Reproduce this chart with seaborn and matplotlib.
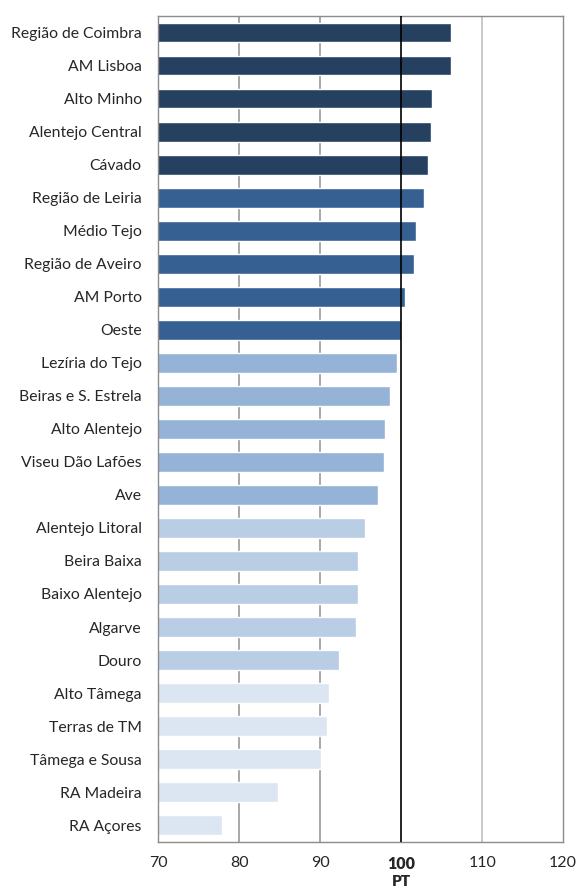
import matplotlib
matplotlib.use("Agg")
import matplotlib.pyplot as plt
import seaborn as sns
import pandas as pd

regions = ["Região de Coimbra", "AM Lisboa", "Alto Minho", "Alentejo Central", "Cávado",
           "Região de Leiria", "Médio Tejo", "Região de Aveiro", "AM Porto", "Oeste",
           "Lezíria do Tejo", "Beiras e S. Estrela", "Alto Alentejo", "Viseu Dão Lafões", "Ave",
           "Alentejo Litoral", "Beira Baixa", "Baixo Alentejo", "Algarve", "Douro",
           "Alto Tâmega", "Terras de TM", "Tâmega e Sousa", "RA Madeira", "RA Açores"]
values = [106.1, 106.1, 103.8, 103.7, 103.3,
          102.8, 101.8, 101.6, 100.5, 100.0,
          99.5, 98.6, 98.0, 97.9, 97.1,
          95.5, 94.6, 94.6, 94.4, 92.3,
          91.1, 90.8, 90.1, 84.8, 77.9]
groups = ["G1"] * 5 + ["G2"] * 5 + ["G3"] * 5 + ["G4"] * 5 + ["G5"] * 5
group_colors = {"G1": "#264060", "G2": "#376092", "G3": "#95B3D7", "G4": "#B9CDE5", "G5": "#DCE6F2"}
xticks = [70, 80, 90, 100, 110, 120]

df = pd.DataFrame({"region": regions, "value": values, "group": groups})

sns.set_style("white")
plt.rcParams["font.family"] = ["Lato", "DejaVu Sans"]

fig = plt.figure(figsize=(5.8, 8.9), dpi=100)
ax = fig.add_axes([0.273, 0.0543, 0.698, 0.9277])

sns.barplot(data=df, y="region", x="value", hue="group", palette=group_colors,
            dodge=False, width=0.6, legend=False, ax=ax, orient="h", saturation=1)

ax.set_xlim(70, 120)
ax.set_ylim(len(regions) - 0.5, -0.5)
ax.set_xticks(xticks)
ax.set_xticklabels([str(t) for t in xticks])
for lbl in ax.get_xticklabels():
    if lbl.get_text() == "100":
        lbl.set_fontweight("heavy")
    lbl.set_fontsize(11.5)
ax.tick_params(axis="x", length=0, pad=10)
ax.tick_params(axis="y", length=0, pad=12, labelsize=11.3)

for x in [80, 90]:
    ax.axvline(x, color="#999999", lw=1.2, zorder=0)
ax.axvline(110, color="#c0c0c0", lw=1.2, zorder=0)
ax.axvline(100, color="black", lw=1.2, zorder=5)

for s in ax.spines.values():
    s.set_color("#8c8c8c")
    s.set_linewidth(1.0)

ax.set_xlabel("")
ax.set_ylabel("")
fig.text(401.5 / 580, 1 - 882 / 890, "PT", ha="center", va="center",
         fontsize=11, fontweight="heavy")

fig.savefig("out.png", dpi=100)
